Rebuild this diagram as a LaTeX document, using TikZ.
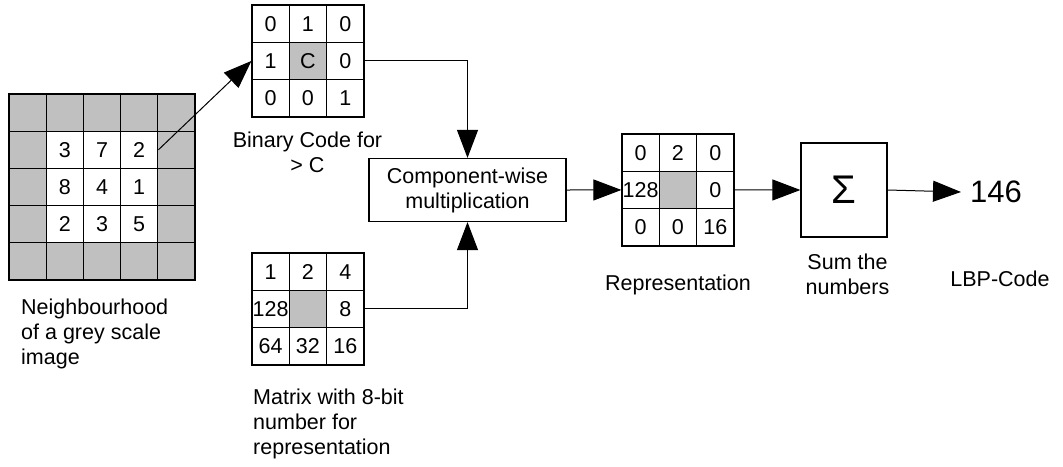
\documentclass[tikz,border=0pt]{standalone}
\usepackage{fontspec}
\setmainfont{Liberation Sans}
\usetikzlibrary{arrows.meta,positioning}
\definecolor{lbpgrey}{RGB}{192,192,192}
\newcommand{\txt}{\fontsize{21.5}{25}\selectfont}

\begin{document}
\begin{tikzpicture}[x=1pt,y=-1pt]
        \tikzset{cell/.style = {shape=rectangle,draw,line width=1.2pt,minimum size=37.3pt,inner sep=0pt,fill=white,font=\txt}}
        \tikzset{greycell/.style = {cell,fill=lbpgrey}}
        \tikzset{block/.style = {shape=rectangle,draw,line width=1.2pt,align=center,font=\txt}}
        \tikzset{caption/.style = {inner sep=0pt,font=\txt}}
        \tikzset{edge/.style = {-{Triangle[length=28pt,width=21pt]},line width=1pt}}

        \useasboundingbox (0,0) rectangle (1063,466);

        \foreach \i in {0,...,4}
            \foreach \j in {0,...,4}
                \node[greycell,minimum size=37.2pt] (G\j\i) at (27.6+37.2*\i, 112.6+37.2*\j) {};
        \foreach \v/\i/\j in {3/1/1, 7/2/1, 2/3/1, 8/1/2, 4/2/2, 1/3/2, 2/1/3, 3/2/3, 5/3/3}
            \node[cell,minimum size=37.2pt] (N\j\i) at (27.6+37.2*\i, 112.6+37.2*\j) {\v};

        \foreach \v/\i/\j in {0/0/0, 1/1/0, 0/2/0, 1/0/1, 0/2/1, 0/0/2, 0/1/2, 1/2/2}
            \node[cell] (B\j\i) at (270.65+37.3*\i, 23.65+37.3*\j) {\v};
        \node[greycell] (B11) at (307.95, 60.95) {C};

        \foreach \v/\i/\j in {1/0/0, 2/1/0, 4/2/0, 128/0/1, 8/2/1, 64/0/2, 32/1/2, 16/2/2}
            \node[cell] (W\j\i) at (270.65+37.3*\i, 271.65+37.3*\j) {\v};
        \node[greycell] (W11) at (307.95, 308.95) {};

        \foreach \v/\i/\j in {0/0/0, 2/1/0, 0/2/0, 128/0/1, 0/2/1, 0/0/2, 0/1/2, 16/2/2}
            \node[cell] (R\j\i) at (640.65+37.3*\i, 152.65+37.3*\j) {\v};
        \node[greycell] (R11) at (677.95, 189.95) {};

        \node[block,minimum width=197pt,minimum height=63pt] (comp) at (467.5, 190) {Component-wise\\multiplication};
        \node[block,minimum width=86pt,minimum height=94pt,font=\fontsize{40}{44}\selectfont] (sum) at (844, 190) {Σ};
        \node[anchor=west,inner sep=0pt,inner xsep=9pt,font=\fontsize{31}{34}\selectfont] (code) at (961, 192) {146};

        \node[caption,anchor=north west,align=left] (capN) at (21, 299) {Neighbourhood\\of a grey scale\\image};
        \node[caption,anchor=north,align=center] (capB) at (307.5, 132) {Binary Code for\\> C};
        \node[caption,anchor=north west,align=left] (capW) at (253, 389) {Matrix with 8-bit\\number for\\representation};
        \node[caption,anchor=base] (capR) at (678, 290) {Representation};
        \node[caption,anchor=north,align=center] (capS) at (847.5, 254) {Sum the\\numbers};
        \node[caption,anchor=base] (capL) at (1000, 286) {LBP-Code};

        \draw[edge] (N13.east) -- (B10.west);
        \draw[edge] (B12.east) -| (comp.north);
        \draw[edge] (W12.east) -| (comp.south);
        \draw[edge] (comp.east) -- (R10.west);
        \draw[edge] (R12.east) -- (sum.west);
        \draw[edge] (sum.east) -- (code.west);
\end{tikzpicture}
\end{document}
